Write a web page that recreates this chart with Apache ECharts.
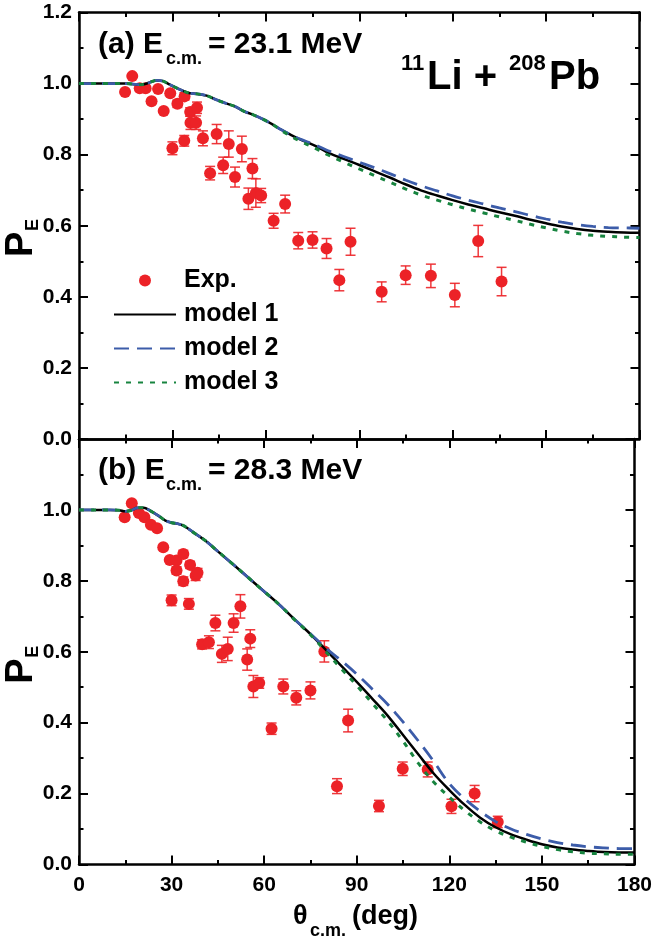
<!DOCTYPE html>
<html>
<head>
<meta charset="utf-8">
<script src="https://cdn.jsdelivr.net/npm/echarts@6/dist/echarts.min.js"></script>
<style>
html,body{margin:0;padding:0;background:#fff;}
#chart{width:655px;height:941px;}
</style>
</head>
<body>
<div id="chart"></div>
<script>
// ---------- data ----------
// panel (a) experimental points
const angA = [14.8,17.1,19.5,21.4,23.3,25.4,27.2,29.3,31.6,33.9,30.0,33.8,35.7,37.9,35.8,37.6,39.8,42.1,44.2,46.3,48.1,50.1,52.3,54.4,55.7,56.8,58.5,62.5,66.2,70.4,75.0,79.5,83.6,87.2,97.2,104.9,113.0,120.7,128.2,135.7];
const peA  = [0.976,1.021,0.987,0.987,0.950,0.985,0.923,0.973,0.943,0.964,0.818,0.839,0.920,0.932,0.890,0.890,0.846,0.748,0.858,0.770,0.830,0.737,0.816,0.676,0.761,0.692,0.685,0.614,0.661,0.558,0.560,0.536,0.447,0.555,0.414,0.461,0.459,0.405,0.557,0.443];
const errA = [0,0,0,0,0,0,0,0,0.01,0.01,0.018,0.015,0.012,0.016,0.019,0.019,0.021,0.019,0.027,0.023,0.037,0.028,0.036,0.03,0.028,0.04,0.02,0.021,0.025,0.023,0.023,0.028,0.030,0.038,0.028,0.026,0.033,0.033,0.044,0.040];
// panel (b) experimental points
const angB = [14.8,17.1,19.4,21.2,23.3,25.3,27.3,29.4,31.6,33.8,31.6,36.0,37.8,38.4,33.8,30.0,35.6,44.2,50.1,52.3,39.9,42.1,46.3,48.2,55.5,54.5,56.5,58.4,66.2,70.4,75.0,62.4,79.5,87.2,83.6,97.2,104.9,113.0,120.7,128.2,135.7];
const peB  = [0.979,1.019,0.991,0.979,0.958,0.948,0.895,0.859,0.857,0.876,0.829,0.845,0.815,0.823,0.799,0.745,0.735,0.681,0.681,0.728,0.621,0.627,0.594,0.608,0.637,0.578,0.502,0.512,0.502,0.470,0.491,0.383,0.601,0.406,0.221,0.165,0.270,0.268,0.164,0.200,0.120];
const errB = [0,0,0,0,0,0,0,0,0,0.01,0.01,0.01,0.014,0.012,0.012,0.015,0.015,0.022,0.026,0.033,0.013,0.018,0.024,0.033,0.025,0.030,0.031,0.015,0.021,0.020,0.024,0.016,0.030,0.032,0.021,0.016,0.019,0.021,0.020,0.023,0.016];

// model curves panel (a)
const thA = [0,5,10,15,18,20,22,25,27,29,32,35,38,41,44,47,50,53,56,59,62,65,68,71,74,77,80,85,90,95,100,105,110,115,120,125,130,135,140,145,150,155,160,165,170,175,180];
const m1A = [1.000,1.000,1.000,1.000,0.998,0.997,1.001,1.009,1.007,0.998,0.985,0.974,0.971,0.966,0.955,0.945,0.936,0.922,0.912,0.900,0.886,0.870,0.856,0.843,0.832,0.820,0.806,0.788,0.771,0.753,0.735,0.716,0.699,0.685,0.672,0.660,0.649,0.638,0.628,0.617,0.607,0.598,0.591,0.586,0.583,0.581,0.580];
const m2A = [1.000,1.000,1.000,1.000,0.998,0.997,1.001,1.009,1.007,0.998,0.985,0.974,0.971,0.966,0.955,0.945,0.936,0.922,0.912,0.900,0.886,0.870,0.856,0.844,0.834,0.823,0.811,0.795,0.779,0.763,0.746,0.728,0.712,0.698,0.684,0.672,0.661,0.650,0.640,0.629,0.619,0.610,0.603,0.598,0.595,0.594,0.593];
const m3A = [1.000,1.000,1.000,1.000,0.998,0.997,1.001,1.009,1.007,0.998,0.985,0.974,0.971,0.966,0.955,0.945,0.936,0.922,0.912,0.900,0.886,0.868,0.852,0.838,0.826,0.813,0.799,0.779,0.760,0.741,0.722,0.703,0.686,0.672,0.659,0.647,0.636,0.625,0.615,0.604,0.594,0.585,0.578,0.573,0.570,0.568,0.567];
// model curves panel (b)
const thB = [0,5,10,13,15,17,19,21,23,26,28,30,32,34,37,41,45,50,55,60,65,70,75,80,85,90,95,100,105,110,115,120,125,130,135,140,145,150,155,160,165,170,175,180];
const m1B = [1.000,1.000,1.000,0.999,0.996,0.999,1.006,1.006,0.998,0.982,0.970,0.964,0.961,0.955,0.937,0.913,0.883,0.846,0.808,0.770,0.732,0.690,0.650,0.605,0.560,0.515,0.468,0.420,0.365,0.310,0.256,0.210,0.168,0.132,0.105,0.085,0.070,0.057,0.048,0.042,0.038,0.035,0.034,0.034];
const m2B = [1.000,1.000,1.000,0.999,0.996,0.999,1.006,1.006,0.998,0.982,0.970,0.964,0.961,0.955,0.937,0.913,0.883,0.846,0.808,0.770,0.732,0.690,0.651,0.610,0.575,0.537,0.495,0.452,0.402,0.348,0.290,0.228,0.185,0.150,0.121,0.100,0.085,0.072,0.062,0.055,0.050,0.047,0.045,0.045];
const m3B = [1.000,1.000,1.000,0.999,0.996,0.999,1.006,1.006,0.998,0.982,0.970,0.964,0.961,0.955,0.937,0.913,0.883,0.846,0.808,0.770,0.732,0.689,0.648,0.600,0.552,0.505,0.455,0.405,0.348,0.285,0.232,0.190,0.152,0.120,0.095,0.077,0.063,0.051,0.042,0.036,0.032,0.030,0.029,0.029];

const xTickStep = 30, yTickStep = 0.2;

// ---------- helpers ----------
const FONT = '"Liberation Sans", Arial, sans-serif';
const RED = '#ec2227', BLUE = '#3c5ca9', GREEN = '#17843f';
const zip3 = (a,b,c) => a.map((v,i)=>[v,b[i],c[i]]);
const zip2 = (a,b) => a.map((v,i)=>[v,b[i]]);

function xAx(grid, pos, labels){
  return {
    gridIndex: grid, type:'value', position: pos, min:0, max:180, interval:xTickStep,
    axisLine:{show:true, onZero:false, lineStyle:{color:'#000', width:2.5}},
    axisTick:{show:true, inside:true, length:9, lineStyle:{color:'#000', width:2}},
    minorTick:{show:true, splitNumber:2, length:4.5, lineStyle:{color:'#000', width:2}},
    splitLine:{show:false},
    axisLabel:{show:labels, margin:10, fontSize:21, fontWeight:'bold', fontFamily:FONT, color:'#000'}
  };
}
function yAx(grid, pos, labels, hideTop){
  return {
    gridIndex: grid, type:'value', position: pos, min:0, max:1.2, interval:yTickStep,
    axisLine:{show:true, onZero:false, lineStyle:{color:'#000', width:2.5}},
    axisTick:{show:true, inside:true, length:9, lineStyle:{color:'#000', width:2}},
    minorTick:{show:true, splitNumber:2, length:4.5, lineStyle:{color:'#000', width:2}},
    splitLine:{show:false},
    axisLabel:{show:labels, margin:7, fontSize:21, fontWeight:'bold', fontFamily:FONT, color:'#000',
      formatter: v => (hideTop && v > 1.1) ? '' : v.toFixed(1)}
  };
}
function errSeries(name, xi, yi, data){
  return {
    type:'custom', name: name+'_err', xAxisIndex:xi, yAxisIndex:yi, z:2, silent:true,
    data: data,
    renderItem: function(params, api){
      const x = api.value(0), y = api.value(1), e = api.value(2);
      if (!e) return null;
      const top = api.coord([x, y+e]), bot = api.coord([x, y-e]);
      const w = 5;
      const st = {stroke: RED, lineWidth: 1.5, opacity:0.9};
      return {type:'group', children:[
        {type:'line', shape:{x1:top[0], y1:top[1], x2:bot[0], y2:bot[1]}, style:st},
        {type:'line', shape:{x1:top[0]-w, y1:top[1], x2:top[0]+w, y2:top[1]}, style:st},
        {type:'line', shape:{x1:bot[0]-w, y1:bot[1], x2:bot[0]+w, y2:bot[1]}, style:st}
      ]};
    },
    encode:{x:0, y:1}
  };
}
function modelSeries(name, xi, yi, data, color, type, width, z){
  return {
    type:'line', name:name, xAxisIndex:xi, yAxisIndex:yi, data:data, symbol:'none', showSymbol:false,
    smooth:0.35, z:z, lineStyle:{color:color, width:width, type:type, cap:'butt'}, itemStyle:{color:color}
  };
}

// ---------- text graphics ----------
function txt(x, y, s, size, extra){
  return Object.assign({type:'text', x:x, y:y, silent:true,
    style:{text:s, font:'bold '+size+'px '+FONT, fill:'#000', align:'left', verticalAlign:'middle'}}, extra||{});
}
function panelLabel(dy, letter, energy){
  return [
    txt(98, 55-10.5+dy, '('+letter+') E', 30),
    txt(166, 65-6.3+dy, 'c.m.', 18),
    txt(208, 55-10.5+dy, '= '+energy+' MeV', 30)
  ];
}
function yTitle(gy){
  return {type:'group', x:21.7, y:gy, rotation:Math.PI/2, silent:true, children:[
    {type:'text', x:0, y:0, style:{text:'P', font:'bold 38px '+FONT, fill:'#000', align:'left', verticalAlign:'middle'}},
    {type:'text', x:26, y:11, style:{text:'E', font:'bold 18px '+FONT, fill:'#000', align:'left', verticalAlign:'middle'}}
  ]};
}

const graphics = [].concat(
  panelLabel(0, 'a', '23.1'),
  panelLabel(426.7, 'b', '28.3'),
  [
    txt(401, 72-7.7, '11', 22),
    txt(427, 92-14, 'Li + ', 40),
    txt(509, 72-7.7, '208', 22),
    txt(549, 92-14, 'Pb', 40),
    txt(293, 926-9.5, 'θ', 27),
    txt(310, 937-6.3, 'c.m.', 18),
    txt(352, 926-9.5, '(deg)', 27),
    yTitle(257),
    yTitle(683.7)
  ]
);

const noSym = {opacity:0, borderWidth:0};
const chart = echarts.init(document.getElementById('chart'), null, {renderer:'canvas'});
chart.setOption({
  animation:false,
  backgroundColor:'#fff',
  textStyle:{fontFamily:FONT, fontWeight:'bold'},
  grid:[
    {left:79, right:15.5, top:12.5, height:426.5},
    {left:79, right:15.5, top:439, height:425.5}
  ],
  xAxis:[ xAx(0,'bottom',false), xAx(0,'top',false), xAx(1,'bottom',true), xAx(1,'top',false) ],
  yAxis:[ yAx(0,'left',true,false), yAx(0,'right',false,false), yAx(1,'left',true,true), yAx(1,'right',false,false) ],
  legend:{
    data:[
      {name:'Exp.'},
      {name:'model 1', itemStyle:noSym},
      {name:'model 2', itemStyle:noSym},
      {name:'model 3', itemStyle:noSym}
    ],
    orient:'vertical', left:113, top:268, padding:0, itemWidth:62, itemHeight:12, itemGap:9,
    selectedMode:false,
    textStyle:{fontSize:25, fontWeight:'bold', fontFamily:FONT, color:'#000', padding:[0,0,0,3]}
  },
  graphic: graphics,
  series:[
    errSeries('a', 0, 0, zip3(angA, peA, errA)),
    {type:'scatter', name:'Exp.', xAxisIndex:0, yAxisIndex:0, data:zip2(angA, peA), symbol:'circle', symbolSize:12, itemStyle:{color:RED, opacity:1}, z:3},
    modelSeries('model 1', 0, 0, zip2(thA, m1A), '#000', 'solid', 2.5, 4),
    modelSeries('model 2', 0, 0, zip2(thA, m2A), BLUE, [15,8], 2.8, 5),
    modelSeries('model 3', 0, 0, zip2(thA, m3A), GREEN, [5,7], 3, 6),
    errSeries('b', 2, 2, zip3(angB, peB, errB)),
    {type:'scatter', name:'Exp.', xAxisIndex:2, yAxisIndex:2, data:zip2(angB, peB), symbol:'circle', symbolSize:12, itemStyle:{color:RED, opacity:1}, z:3},
    modelSeries('model 1', 2, 2, zip2(thB, m1B), '#000', 'solid', 2.5, 4),
    modelSeries('model 2', 2, 2, zip2(thB, m2B), BLUE, [15,8], 2.8, 5),
    modelSeries('model 3', 2, 2, zip2(thB, m3B), GREEN, [5,7], 3, 6)
  ]
});
</script>
</body>
</html>
